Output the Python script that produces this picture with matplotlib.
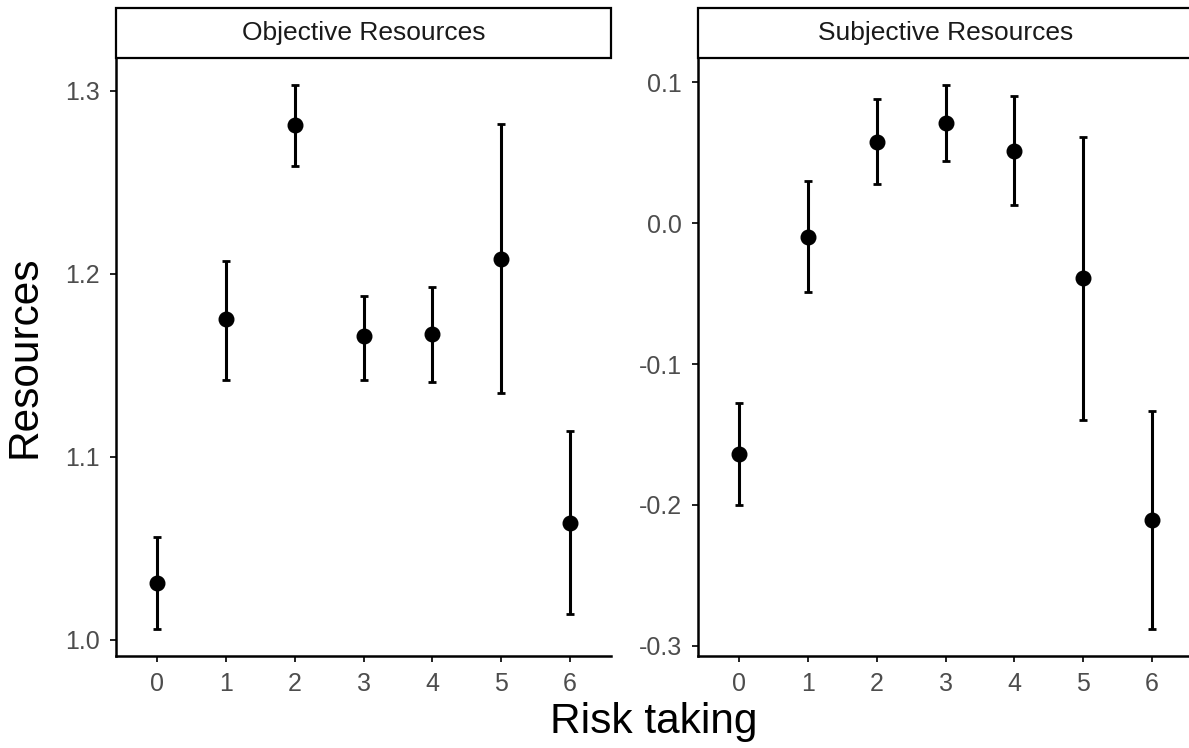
import matplotlib.pyplot as plt
import numpy as np
from matplotlib.patches import Rectangle

plt.rcParams['font.family'] = ['Liberation Sans', 'DejaVu Sans']

risk = [0, 1, 2, 3, 4, 5, 6]

obj_mean = [1.031, 1.175, 1.281, 1.166, 1.167, 1.208, 1.064]
obj_low = [1.006, 1.142, 1.259, 1.142, 1.141, 1.135, 1.014]
obj_high = [1.056, 1.207, 1.303, 1.188, 1.193, 1.282, 1.114]

subj_mean = [-0.164, -0.010, 0.058, 0.071, 0.051, -0.039, -0.211]
subj_low = [-0.200, -0.049, 0.028, 0.044, 0.013, -0.140, -0.288]
subj_high = [-0.128, 0.030, 0.088, 0.098, 0.090, 0.061, -0.133]

obj_ticks = [1.0, 1.1, 1.2, 1.3]
obj_labels = ['1.0', '1.1', '1.2', '1.3']
subj_ticks = [-0.3, -0.2, -0.1, 0.0, 0.1]
subj_labels = ['-0.3', '-0.2', '-0.1', '0.0', '0.1']

panels = [
    ('Objective Resources', obj_mean, obj_low, obj_high, obj_ticks, obj_labels),
    ('Subjective Resources', subj_mean, subj_low, subj_high, subj_ticks, subj_labels),
]

W, H = 1189, 748
fig = plt.figure(figsize=(W / 100, H / 100), dpi=100)

lefts = [116, 698]
panel_w = 495
panel_top, panel_bot = 58, 656
strip_h = 50

for left, (title, mean, low, high, ticks, labels) in zip(lefts, panels):
    ax = fig.add_axes([left / W, 1 - panel_bot / H, panel_w / W, (panel_bot - panel_top) / H])
    mean = np.array(mean)
    low = np.array(low)
    high = np.array(high)
    yerr = [mean - low, high - mean]
    ax.errorbar(risk, mean, yerr=yerr, fmt='o', color='black', ms=10.5,
                elinewidth=2.2, capsize=2.6, capthick=2.0, zorder=3)

    # ggplot style expansion
    lo, hi = low.min(), high.max()
    pad = 0.05 * (hi - lo)
    ax.set_ylim(lo - pad, hi + pad)
    ax.set_xlim(-0.6, 6.6)

    ax.set_xticks(risk)
    ax.set_xticklabels([str(r) for r in risk])
    ax.set_yticks(ticks)
    ax.set_yticklabels(labels)

    for s in ['top', 'right']:
        ax.spines[s].set_visible(False)
    for s in ['left', 'bottom']:
        ax.spines[s].set_linewidth(1.8)
    ax.tick_params(axis='both', length=4.5, width=1.4, color='#222222',
                   labelcolor='#4D4D4D', labelsize=18)
    ax.tick_params(axis='x', pad=7)
    ax.tick_params(axis='y', pad=7)

    ax.add_patch(Rectangle((0, 1.0), 1, strip_h / (panel_bot - panel_top),
                           transform=ax.transAxes, facecolor='white',
                           edgecolor='black', linewidth=1.6, clip_on=False))
    ax.text(0.5, 1 + (strip_h / 2) / (panel_bot - panel_top), title,
            transform=ax.transAxes, ha='center', va='center',
            fontsize=19, color='#1A1A1A')

fig.text(654 / W, 1 - 733 / H, 'Risk taking', ha='center', va='baseline', fontsize=30.5)
fig.text(25 / W, 1 - 357 / H, 'Resources', ha='center', va='center',
         rotation=90, fontsize=30.5)

fig.savefig('out.png', dpi=100)
